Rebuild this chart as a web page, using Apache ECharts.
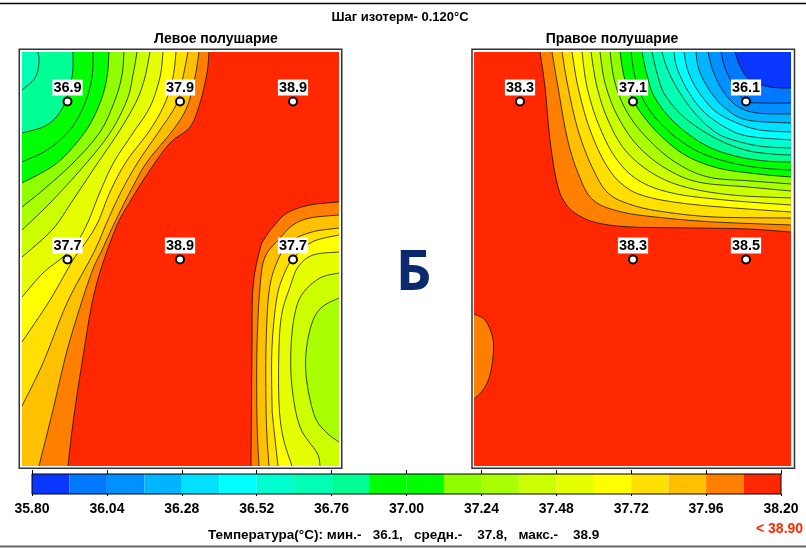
<!DOCTYPE html>
<html><head><meta charset="utf-8">
<style>html,body{margin:0;padding:0;background:#fff}#c{width:806px;height:548px}</style>
<script src="https://cdn.jsdelivr.net/npm/echarts@6/dist/echarts.min.js"></script>
</head><body><div id="c"></div>
<script>
// Colour scale: 20 isotherm bins, labelled every second bin
const binColors = ['#0a37ff','#0078ff','#0090ff','#00b4ff','#00e0ff','#00ffff','#00ffd0','#00ffb4','#00ff94','#00ff00',
  '#00ff00','#90ff00','#aaff00','#ccff00','#e6ff00','#ffff00','#ffe000','#ffc000','#ff8000','#ff2800'];
const tickLabels = ['35.80','36.04','36.28','36.52','36.76','37.00','37.24','37.48','37.72','37.96','38.20'];

// Scalp coordinates: x 0..317, y 0..414 (top to bottom)
const leftTemps = [36.9,37.9,38.9,37.7,38.9,37.7];
const leftX = [45.5,158,271,45.5,158,271];
const leftY = [49.5,49.5,49.5,207.5,207.5,207.5];
const rightTemps = [38.3,37.1,36.1,38.3,38.5];
const rightX = [46,159,272,159,272];
const rightY = [49.5,49.5,49.5,207.5,207.5];

// Left hemisphere isotherms, rising towards lower right; bin index of the warmer side
const leftBase = 7;
const leftBins = [8,9,10,11,12,13,14,15,16,17,18,19];
const leftIso = [
 [[16,0],[17,11],[13,26],[0,38]],
 [[51,0],[50,25],[41,55],[25,73],[0,81]],
 [[71,0],[70,25],[63,51],[48,78],[25,98],[0,110]],
 [[87,0],[85,25],[78,51],[63,80],[35,111],[0,131]],
 [[102,0],[100,23],[93,48],[78,80],[51,111],[21,138],[0,155]],
 [[115,0],[111,23],[105,48],[88,81],[61,115],[28,151],[0,178]],
 [[128,0],[123,25],[115,48],[98,78],[73,115],[51,148],[30,178],[0,205]],
 [[141,0],[138,25],[128,55],[111,81],[92,110],[78,140],[66,170],[55,190],[41,205],[21,221],[0,245]],
 [[154,0],[151,25],[143,51],[128,78],[104,110],[88,140],[76,170],[64,190],[51,208],[28,248],[0,290]],
 [[166,0],[161,25],[155,51],[138,78],[116,110],[99,140],[85,170],[72,200],[45,251],[21,311],[0,354]],
 [[177,0],[173,25],[165,55],[151,78],[125,110],[108,140],[93,170],[80,198],[68,225],[46,295],[31,358],[17,414]],
 [[187,0],[185,21],[178,51],[168,75],[148,91],[128,118],[109,148],[93,178],[73,238],[60,311],[51,371],[46,414]]
];
const leftClosures = [3,3,3,3,3,3,3,3,3,3,2,2];

// Left hemisphere cool pocket, falling towards the right edge
const pocketBins = [18,17,16,15,14,13,12];
const pocketIso = [
 [[317,150],[288,153],[265,161],[251,175],[243,186],[238,197],[231,235],[230,295],[229,414]],
 [[317,163],[288,166],[271,173],[258,186],[243,205],[238,235],[235,295],[235,368],[237,414]],
 [[317,176],[290,180],[268,190],[255,210],[247,240],[244,295],[244,351],[245,385],[247,414]],
 [[317,183],[290,190],[271,207],[263,220],[255,245],[250,295],[250,351],[251,368],[256,414]],
 [[317,200],[291,203],[276,215],[268,235],[260,261],[257,295],[257,351],[261,385],[270,414]],
 [[317,221],[298,226],[281,241],[273,261],[269,295],[270,335],[278,375],[295,401],[298,414]],
 [[317,246],[300,255],[290,271],[284,301],[285,331],[293,365],[305,381],[317,390]]
];
const pocketClosures = [1,1,1,1,1,1,0];

// Right hemisphere isotherms, cooling towards upper right
const rightBase = 19;
const rightBins = [18,17,16,15,14,13,12,11,10,9,8,7,6,5,4,3,2,1,0];
const rightIso = [
 [[66,0],[71,35],[76,88],[83,131],[91,151],[104,163],[124,171],[158,175],[224,176],[274,177],[317,180]],
 [[78,0],[84,35],[93,85],[104,121],[119,148],[148,160],[191,166],[241,170],[317,173]],
 [[88,0],[94,35],[104,78],[118,115],[134,141],[158,153],[191,160],[241,165],[317,166]],
 [[98,0],[104,35],[115,75],[131,111],[149,133],[174,145],[224,153],[317,160]],
 [[108,0],[113,35],[124,71],[141,105],[164,128],[198,141],[251,148],[317,153]],
 [[117,0],[123,35],[134,68],[151,98],[178,121],[211,135],[258,143],[317,146]],
 [[126,0],[131,31],[143,63],[163,93],[191,116],[224,130],[274,135],[317,139]],
 [[136,0],[141,31],[153,60],[173,86],[201,110],[234,125],[278,129],[317,132]],
 [[146,0],[151,28],[163,55],[184,81],[211,103],[244,116],[284,122],[317,125]],
 [[157,0],[161,25],[171,51],[191,76],[221,98],[254,110],[288,116],[317,118]],
 [[168,0],[173,23],[181,46],[201,71],[231,93],[261,104],[291,109],[317,110]],
 [[178,0],[183,21],[191,43],[211,66],[241,86],[271,98],[298,102],[317,103]],
 [[188,0],[193,16],[203,36],[219,59],[236,76],[253,86],[285,94],[317,96]],
 [[200,0],[203,16],[214,39],[229,59],[249,74],[273,84],[317,88]],
 [[210,0],[214,19],[224,39],[241,59],[263,71],[286,78],[317,80]],
 [[222,0],[225,18],[236,39],[251,56],[273,68],[317,71]],
 [[234,0],[239,19],[249,39],[263,54],[283,61],[317,62]],
 [[247,0],[251,16],[261,36],[272,49],[289,51],[317,51]],
 [[261,0],[266,14],[276,28],[296,35],[317,36]]
];
const rightClosures = [4,4,4,4,4,4,4,4,4,4,4,4,4,4,4,4,4,4,4];

// Warm-side bump on the right hemisphere's left edge
const bumpBins = [18];
const bumpIso = [[[0,262],[11,268],[18,283],[19.5,298],[16,323],[9,338],[0,347]]];
const bumpClosures = [0];

const closureCorners = {0:[],1:[[317,414]],2:[[317,414],[317,0]],3:[[0,414],[317,414],[317,0]],4:[[317,0]]};
const lineColor = 'rgba(0,0,0,0.72)';
const axisFont = 'Liberation Sans';

function curve(p){
  const out=[];
  for(let i=0;i<p.length-1;i++){
    const a=p[Math.max(i-1,0)],b=p[i],c=p[i+1],d=p[Math.min(i+2,p.length-1)];
    for(let s=0;s<8;s++){
      const t=s/8,t2=t*t,t3=t2*t;
      out.push([0,1].map(k=>0.5*(2*b[k]+(c[k]-a[k])*t+(2*a[k]-5*b[k]+4*c[k]-d[k])*t2+(3*b[k]-a[k]-3*c[k]+d[k])*t3)));
    }
  }
  out.push(p[p.length-1]);
  return out;
}
function isoSeries(xi,lines,bins,closures,baseBin,z){
  const list=[];
  if(baseBin!=null) list.push({type:'custom',xAxisIndex:xi,yAxisIndex:xi,coordinateSystem:'cartesian2d',silent:true,clip:true,z:z-1,
    data:[[0,0]],renderItem:(pr,api)=>{const a=api.coord([0,0]),s=api.size([317,414]);
      return {type:'rect',shape:{x:a[0],y:a[1],width:s[0],height:s[1]},style:{fill:binColors[baseBin]}};}});
  list.push({type:'custom',xAxisIndex:xi,yAxisIndex:xi,coordinateSystem:'cartesian2d',silent:true,clip:true,z:z,
    data:lines.map((l,i)=>[l[0][0],l[0][1],i]),
    renderItem:(pr,api)=>{
      const i=pr.dataIndex, c=curve(lines[i].map(q=>api.coord(q)));
      const corners=closureCorners[closures[i]].map(q=>api.coord(q));
      return {type:'group',children:[
        {type:'polygon',shape:{points:c.concat(corners)},style:{fill:binColors[bins[i]],stroke:null}},
        {type:'polyline',shape:{points:c},style:{fill:null,stroke:lineColor,lineWidth:1}}
      ]};
    }});
  return list;
}
function markerSeries(xi,xs,ys,temps){
  return {type:'scatter',xAxisIndex:xi,yAxisIndex:xi,z:10,silent:true,clip:false,
    data:temps.map((t,i)=>[xs[i],ys[i],t]),symbol:'circle',symbolSize:8,
    itemStyle:{color:'#fff',borderColor:'#000',borderWidth:2,opacity:1},
    label:{show:true,position:'top',distance:1,formatter:p=>p.value[2].toFixed(1),color:'#000',
      fontFamily:axisFont,fontWeight:'bold',fontSize:14.5,lineHeight:14,backgroundColor:'#fff',padding:[1,1,1,1]}};
}
const hiddenAxis=(gridIndex,max,inverse)=>({type:'value',gridIndex,min:0,max,inverse:!!inverse,show:false});
const titleStyle=size=>({fontFamily:axisFont,fontWeight:'bold',fontSize:size,color:'#000',lineHeight:14});
const option={
  animation:false,backgroundColor:'#fff',
  title:[
    {text:'Шаг изотерм- 0.120°C',left:400,top:10,padding:0,textAlign:'center',textStyle:titleStyle(13)},
    {text:'Левое полушарие',left:216,top:32,padding:0,textAlign:'center',textStyle:titleStyle(14)},
    {text:'Правое полушарие',left:612,top:32,padding:0,textAlign:'center',textStyle:titleStyle(14)},
    {text:'Б',left:413.5,top:236,padding:0,textAlign:'center',textStyle:{fontFamily:'Open Sans',fontWeight:'bold',fontSize:56,color:'#0b2a6e',lineHeight:76}},
    {text:'Температура(°C): мин.-   36.1,   средн.-    37.8,   макс.-    38.9',left:208,top:528,padding:0,textStyle:titleStyle(13.5)},
    {text:'< 38.90',left:756,top:522,padding:0,textStyle:{fontFamily:axisFont,fontWeight:'bold',fontSize:14,color:'#ff2800',lineHeight:14}}
  ],
  grid:[
    {left:22,top:52,width:317,height:414},
    {left:474,top:52,width:317,height:414},
    {left:32,top:474,width:749,height:20}
  ],
  xAxis:[hiddenAxis(0,317),hiddenAxis(1,317),
    {type:'value',gridIndex:2,min:0,max:20,interval:2,position:'bottom',splitLine:{show:false},axisLine:{show:false},
     axisTick:{show:true,length:2,lineStyle:{color:'#000'}},
     axisLabel:{margin:8,formatter:v=>tickLabels[v/2],color:'#000',fontFamily:axisFont,fontWeight:'bold',fontSize:14,hideOverlap:false,showMinLabel:true,showMaxLabel:true}},
    {type:'value',gridIndex:2,min:0,max:20,interval:2,position:'top',splitLine:{show:false},axisLine:{show:false},
     axisTick:{show:true,length:4,lineStyle:{color:'#000'}},axisLabel:{show:false}}
  ],
  yAxis:[hiddenAxis(0,414,true),hiddenAxis(1,414,true),{type:'value',gridIndex:2,min:0,max:1,show:false}],
  series:[
    ...isoSeries(0,leftIso,leftBins,leftClosures,leftBase,3),
    ...isoSeries(0,pocketIso,pocketBins,pocketClosures,null,4),
    ...isoSeries(1,rightIso,rightBins,rightClosures,rightBase,3),
    ...isoSeries(1,bumpIso,bumpBins,bumpClosures,null,4),
    markerSeries(0,leftX,leftY,leftTemps),
    markerSeries(1,rightX,rightY,rightTemps),
    {type:'custom',xAxisIndex:2,yAxisIndex:2,coordinateSystem:'cartesian2d',silent:true,z:3,
     data:binColors.map((c,i)=>[i,0]),
     renderItem:(pr,api)=>{
       const i=pr.dataIndex,a=api.coord([i,1]),b=api.coord([i+1,0]);
       return {type:'rect',shape:{x:a[0],y:a[1],width:b[0]-a[0],height:b[1]-a[1]},style:{fill:binColors[i]}};
     }}
  ],
  graphic:[
    {type:'rect',silent:true,z:1,shape:{x:19.25,y:49.25,width:322.5,height:419},style:{fill:null,stroke:'#333',lineWidth:1.5}},
    {type:'rect',silent:true,z:1,shape:{x:472,y:49.25,width:322.5,height:419},style:{fill:null,stroke:'#333',lineWidth:1.5}},
    {type:'rect',silent:true,z:20,shape:{x:32,y:474,width:749,height:20},style:{fill:null,stroke:'#000',lineWidth:1}},
    {type:'line',silent:true,z:1,shape:{x1:0,y1:3.5,x2:806,y2:3.5},style:{stroke:'#000',lineWidth:1.5}},
    {type:'line',silent:true,z:1,shape:{x1:0,y1:546.5,x2:806,y2:546.5},style:{stroke:'#666',lineWidth:2}}
  ]
};
echarts.init(document.getElementById('c'),null,{renderer:'canvas'}).setOption(option);
</script></body></html>
